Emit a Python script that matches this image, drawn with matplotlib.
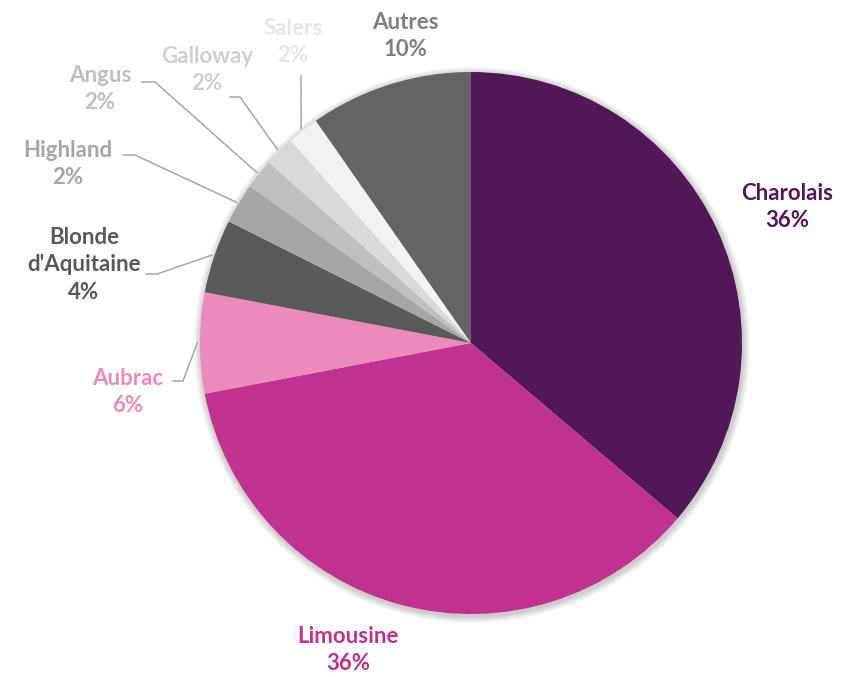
import numpy as np
import matplotlib.pyplot as plt
from matplotlib.patches import Circle

# breed shares (%), clockwise from 12 o'clock
breeds = ["Charolais", "Limousine", "Aubrac", "Blonde\nd'Aquitaine", "Highland",
          "Angus", "Galloway", "Salers", "Autres"]
shares = [36.2, 35.8, 6.0, 4.4, 2.4, 1.8, 1.8, 1.9, 9.7]
slice_colors = ["#521756", "#C03190", "#EC8ABB", "#595959", "#A6A6A6",
                "#BFBFBF", "#D9D9D9", "#F2F2F2", "#646464"]
label_colors = ["#521756", "#C03190", "#EC8ABB", "#595959", "#A6A6A6",
                "#BFBFBF", "#CFCFCF", "#E6E6E6", "#7F7F7F"]

# label anchor (pixels, top-left origin) and leader elbow (None = no leader)
label_pos = [(787, 207), (348, 650), (128, 392), (84, 265), (68, 164),
             (100, 89), (207, 70), (293, 42), (405, 36)]
elbows = [None, None, [(173, 381), (183, 381)], [(146, 274), (157, 274)],
          [(123, 155), (135, 155)], [(142, 82), (155, 82)],
          [(230, 97), (240, 97)], [(301, 76)], None]

W, H = 845, 677
cx, cy, R = 471, H - 343, 271

plt.rcParams['font.family'] = ['Lato', 'DejaVu Sans']
fig = plt.figure(figsize=(W / 100, H / 100), dpi=100)
ax = fig.add_axes([0, 0, 1, 1])

# soft shadow under the pie
for k in range(10):
    ax.add_patch(Circle((cx + 1, cy - 2), R + 1 + k * 0.7, color='black',
                        alpha=0.018, lw=0, zorder=0))

wedges, _ = ax.pie(shares, colors=slice_colors, startangle=90, counterclock=False,
                   radius=R, center=(cx, cy), frame=True,
                   wedgeprops=dict(linewidth=0, edgecolor='none'))
ax.set_xlim(0, W)
ax.set_ylim(0, H)
ax.set_aspect('equal')
ax.axis('off')

for w, name, val, col, pos, elb in zip(wedges, breeds, shares, label_colors,
                                       label_pos, elbows):
    ax.text(pos[0], H - pos[1], f"{name}\n{val:.0f}%", ha='center', va='center',
            color=col, fontsize=16, fontweight='bold', linespacing=1.4)
    if elb is not None:
        mid = np.deg2rad((w.theta1 + w.theta2) / 2)
        px = cx + R * 1.01 * np.cos(mid)
        py = cy + R * 1.01 * np.sin(mid)
        xs = [p[0] for p in elb] + [px]
        ys = [H - p[1] for p in elb] + [py]
        ax.plot(xs, ys, color='#A6A6A6', lw=1.1, zorder=3)

fig.savefig("out.png", dpi=100)
